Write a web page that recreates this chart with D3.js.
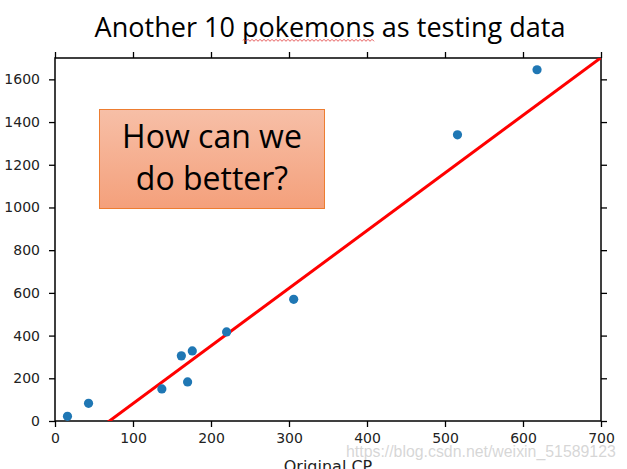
<!DOCTYPE html>
<html><head><meta charset="utf-8">
<script src="https://cdn.jsdelivr.net/npm/d3@7"></script>
<style>body{margin:0;background:#fff}svg{display:block}</style>
</head><body>
<svg id="c" width="627" height="469"></svg>
<script>
// data
const cpX = [16, 43, 137, 162, 170, 176, 220, 306, 516, 618];
const cpY = [22, 83, 150, 305, 183, 328, 417, 570, 1340, 1645];
const lineX = [0, 700];
const lineY = [-188.4, 1701.6];
const xTicks = [0, 100, 200, 300, 400, 500, 600, 700];
const yTicks = [0, 200, 400, 600, 800, 1000, 1200, 1400, 1600];
const titleText = "Another 10 pokemons as testing data";
const boxLines = ["How can we", "do better?"];
const xLabel = "Original CP";
const watermark = "https://blog.csdn.net/weixin_51589123";

const svg = d3.select("#c");
const L = 55, R = 601, T = 58, B = 421;
const x = d3.scaleLinear().domain([0, 700]).range([L, R]);
const y = d3.scaleLinear().domain([0, 1700]).range([B, T]);

function fit(sel, w) {
  const n = sel.node(); const fs = parseFloat(sel.attr("font-size"));
  const cur = n.getComputedTextLength();
  sel.attr("font-size", fs * w / cur);
}

// title
const title = svg.append("text").attr("x", 330).attr("y", 37).attr("text-anchor", "middle")
  .attr("font-family", "Open Sans").attr("font-size", 28).attr("fill", "#000").text(titleText);
fit(title, 471);
// spell squiggle under "pokemons"
{
  let p = "M243,40.5"; for (let xx = 243; xx < 375; xx += 2) p += `L${xx+1},${(xx-243)%4===0?39.3:41.3}`;
  svg.append("path").attr("d", p).attr("fill", "none").attr("stroke", "#e03030").attr("stroke-width", 0.8);
}

const defs = svg.append("defs");
defs.append("clipPath").attr("id", "clip").append("rect").attr("x", L).attr("y", T).attr("width", R - L).attr("height", B - T);
const g = defs.append("linearGradient").attr("id", "gr").attr("x1", 0).attr("y1", 0).attr("x2", 0).attr("y2", 1);
g.append("stop").attr("offset", "0%").attr("stop-color", "#f7bfa7");
g.append("stop").attr("offset", "100%").attr("stop-color", "#f4a07b");

// axes
const fontTick = "DejaVu Sans";
const axB = svg.append("g").attr("transform", `translate(0,${B})`)
  .call(d3.axisBottom(x).tickValues(xTicks).tickSize(6).tickPadding(5).tickFormat(d3.format("d")));
const axT = svg.append("g").attr("transform", `translate(0,${T})`)
  .call(d3.axisTop(x).tickValues(xTicks).tickSize(6).tickFormat(""));
const axL = svg.append("g").attr("transform", `translate(${L},0)`)
  .call(d3.axisLeft(y).tickValues(yTicks).tickSize(6).tickPadding(9).tickFormat(d3.format("d")));
const axR = svg.append("g").attr("transform", `translate(${R},0)`)
  .call(d3.axisRight(y).tickValues(yTicks).tickSize(6).tickFormat(""));
[axB, axT, axL, axR].forEach(a => {
  a.select(".domain").remove();
  a.selectAll(".tick line").attr("stroke", "#000").attr("stroke-width", 1.3);
  a.selectAll(".tick text").attr("font-family", fontTick).attr("font-size", 14).attr("fill", "#222");
});
axB.selectAll(".tick text").attr("dy", "0.75em");
svg.append("rect").attr("x", L).attr("y", T).attr("width", R - L).attr("height", B - T)
  .attr("fill", "none").attr("stroke", "#000").attr("stroke-width", 1.5);

// fit line
svg.append("line").attr("clip-path", "url(#clip)")
  .attr("x1", x(lineX[0])).attr("y1", y(lineY[0])).attr("x2", x(lineX[1])).attr("y2", y(lineY[1]))
  .attr("stroke", "#ff0000").attr("stroke-width", 3);

// points
svg.append("g").selectAll("circle").data(cpX).join("circle")
  .attr("cx", d => x(d)).attr("cy", (d, i) => y(cpY[i])).attr("r", 4.6).attr("fill", "#1f77b4");

// box
svg.append("rect").attr("x", 99.5).attr("y", 109.5).attr("width", 225).attr("height", 99)
  .attr("fill", "url(#gr)").attr("stroke", "#ed7d31").attr("stroke-width", 1);
boxLines.forEach((t, i) => {
  svg.append("text").attr("x", 212).attr("y", 148 + i * 42).attr("text-anchor", "middle")
    .attr("font-family", "Open Sans").attr("font-size", 32).attr("fill", "#000").text(t);
});

// x label
svg.append("text").attr("x", 328).attr("y", 472).attr("text-anchor", "middle")
  .attr("font-family", fontTick).attr("font-size", 16).attr("fill", "#222").text(xLabel);

// watermark
const wm = svg.append("text").attr("x", 346).attr("y", 457).attr("font-family", "Liberation Sans")
  .attr("font-size", 16).attr("fill", "#cfcfcf").attr("fill-opacity", 0.85).text(watermark);
fit(wm, 270);
</script>
</body></html>
